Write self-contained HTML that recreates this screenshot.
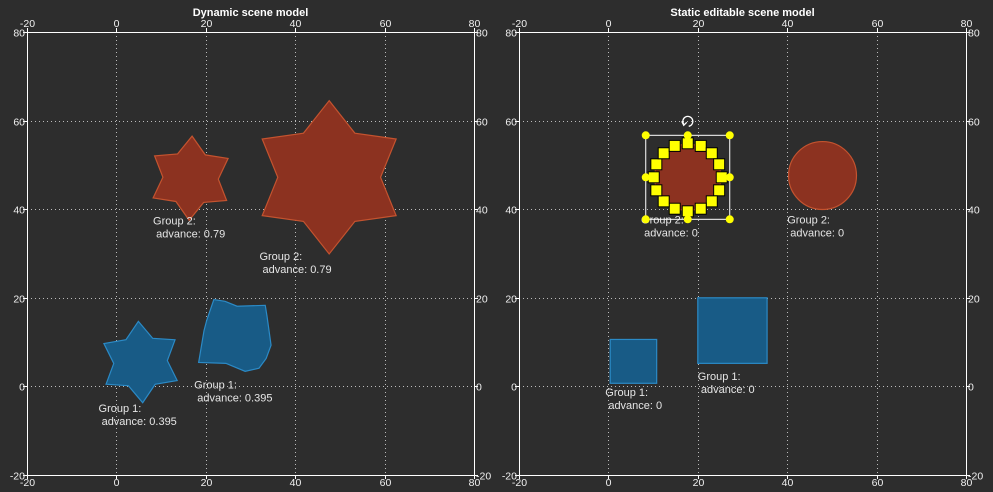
<!DOCTYPE html>
<html><head><meta charset="utf-8"><style>
html,body{margin:0;padding:0;background:#2d2d2d;width:993px;height:492px;overflow:hidden}
svg{display:block;font-family:"Liberation Sans","DejaVu Sans",sans-serif}
</style></head><body>
<svg id="c" width="993" height="492"></svg>
<script>
const ticks=[-20,0,20,40,60,80];
const tickLabels=["-20","0","20","40","60","80"];
const titles=["Dynamic scene model","Static editable scene model"];
// Left panel shapes (data units)
const smallStar={cx:16.6,cy:47,R:9.5,r:6.2,rot:2};
const bigStar={cx:47.6,cy:47.2,R:17.3,r:11.5,rot:0};
const blueStar={cx:5.4,cy:5.5,R:9.2,r:6.0,rot:-3};
const blobX=[21.8,24.3,27.0,33.3,33.7,34.6,33.5,31.9,28.8,24.5,18.4,19.6,20.2];
const blobY=[19.6,19.2,18.1,18.3,15.8,9.3,6.3,4.1,3.4,5.2,5.4,12.6,14.9];
const leftLabels=[["Group 2:","\u00a0advance: 0.79",8.2,36.5],["Group 2:","\u00a0advance: 0.79",32,28.5],["Group 1:","\u00a0advance: 0.395",-4,-5.8],["Group 1:","\u00a0advance: 0.395",17.4,-0.5]];
// Right panel shapes
const circles=[[17.75,47.2,7.4],[47.9,47.6,7.6]];
const rects=[[0.4,0.7,10.8,10.6],[20,5.2,35.5,20]];
const rightLabels=[["Group 2:","\u00a0advance: 0",7.3,36.8],["Group 2:","\u00a0advance: 0",40,36.8],["Group 1:","\u00a0advance: 0",-0.7,-2.2],["Group 1:","\u00a0advance: 0",20,1.5]];

const NS="http://www.w3.org/2000/svg";
const svg=document.getElementById('c');
function mk(t,a,p){const e=document.createElementNS(NS,t);for(const k in a)e.setAttribute(k,a[k]);(p||svg).appendChild(e);return e;}
const panels=[{x0:27,x1:474},{x0:519,x1:966}];
const y0=475,y1=32;
function sx(p,v){return p.x0+(v+20)/100*(p.x1-p.x0);}
function sy(v){return y0-(v+20)/100*(y0-y1);}
function px(v){return Math.round(v)+0.5;}
function starPts(p,s){const pts=[];for(let i=0;i<12;i++){const a=(s.rot+i*30)*Math.PI/180;const rr=i%2?s.r:s.R;pts.push(sx(p,s.cx+rr*Math.sin(a))+','+sy(s.cy+rr*Math.cos(a)));}return pts.join(' ');}
const red={fill:'#8c3220',stroke:'#c4532f','stroke-width':1.2};
const blue={fill:'#185b86',stroke:'#2b8ac6','stroke-width':1.2};
function label(p,g,l1,l2,x,y){
  const t=mk('text',{x:sx(p,x),y:sy(y),fill:'#e6e6e6','font-size':11},g);
  t.textContent=l1;
  
  const t2=mk('text',{x:sx(p,x),y:sy(y)+13,fill:'#e6e6e6','font-size':11},g);
  t2.textContent=l2;
  
}
panels.forEach((p,pi)=>{
  const g=mk('g',{});
  
  
  const tt=mk('text',{x:(p.x0+p.x1)/2,y:16,fill:'#ffffff','font-size':11,'font-weight':'bold','text-anchor':'middle'},g);
  tt.textContent=titles[pi];
  
  
  ticks.forEach((v,i)=>{
    const x=px(sx(p,v)),y=px(sy(v));
    if(i>0&&i<5){
      mk('line',{x1:x,x2:x,y1:y1,y2:y0,stroke:'#bbbbbb','stroke-dasharray':'1,3','stroke-width':1},g);
      mk('line',{x1:p.x0,x2:p.x1,y1:y,y2:y,stroke:'#bbbbbb','stroke-dasharray':'1,3','stroke-width':1},g);
    }
    mk('line',{x1:x,x2:x,y1:y1,y2:y1-4,stroke:'#fff'},g);
    mk('line',{x1:x,x2:x,y1:y0,y2:y0+4,stroke:'#fff'},g);
    mk('line',{x1:p.x0-4,x2:p.x0,y1:y,y2:y,stroke:'#fff'},g);
    mk('line',{x1:p.x1,x2:p.x1+4,y1:y,y2:y,stroke:'#fff'},g);
    const a=mk('text',{x:x,y:27,fill:'#f0f0f0','font-size':10.5,'text-anchor':'middle'},g);a.textContent=tickLabels[i];
    
    const b=mk('text',{x:x,y:486,fill:'#f0f0f0','font-size':10.5,'text-anchor':'middle'},g);b.textContent=tickLabels[i];
    
    const c=mk('text',{x:p.x0-2,y:y+4,fill:'#f0f0f0','font-size':10.5,'text-anchor':'end'},g);c.textContent=tickLabels[i];
    
    const d=mk('text',{x:p.x1+2,y:y+4,fill:'#f0f0f0','font-size':10.5},g);d.textContent=tickLabels[i];
    
  });
  const fr=mk('rect',{x:p.x0+0.5,y:y1+0.5,width:p.x1-p.x0,height:y0-y1,fill:'none',stroke:'#ffffff','stroke-width':1},g);
  
  if(pi===0){
    [[smallStar,red,'group2-small-star'],[bigStar,red,'group2-big-star'],[blueStar,blue,'group1-star']].forEach(([s,st,n])=>{
      const e=mk('polygon',Object.assign({points:starPts(p,s)},st),g);
      
    });
    const bp=blobX.map((v,i)=>sx(p,v)+','+sy(blobY[i])).join(' ');
    const bl=mk('polygon',Object.assign({points:bp},blue),g);
    
    leftLabels.forEach(l=>label(p,g,l[0],l[1],l[2],l[3]));
  } else {
    circles.forEach((c,i)=>{
      const e=mk('circle',Object.assign({cx:sx(p,c[0]),cy:sy(c[1]),r:(sx(p,c[2])-sx(p,0))},red),g);
      
    });
    rects.forEach(r=>{
      const e=mk('rect',Object.assign({x:sx(p,r[0]),y:sy(r[3]),width:sx(p,r[2])-sx(p,r[0]),height:sy(r[1])-sy(r[3])},blue),g);
      
    });
    rightLabels.forEach(l=>label(p,g,l[0],l[1],l[2],l[3]));
    const c=circles[0],cx=sx(p,c[0]),cy=sy(c[1]);
    const sel=mk('g',{},g);
    
    const h=42;
    mk('rect',{x:cx-h,y:cy-h,width:2*h,height:2*h,fill:'none',stroke:'#fff','stroke-width':1},sel);
    for(let i=0;i<16;i++){const a=i*Math.PI/8;mk('rect',{x:cx+34*Math.cos(a)-5.5,y:cy+34*Math.sin(a)-5.5,width:11,height:11,fill:'#ffff00',stroke:'#000','stroke-width':1},sel);}
    [[-1,-1],[0,-1],[1,-1],[-1,0],[1,0],[-1,1],[0,1],[1,1]].forEach(([a,b])=>mk('circle',{cx:cx+a*h,cy:cy+b*h,r:4,fill:'#ffff00'},sel));
    mk('path',{d:`M${cx-4} ${cy-53} A5 5 0 1 1 ${cx+1} ${cy-51}`,fill:'none',stroke:'#fff','stroke-width':1.3},sel);
    mk('path',{d:`M${cx-6} ${cy-56} L${cx-4} ${cy-52} L${cx-1} ${cy-55}`,fill:'none',stroke:'#fff','stroke-width':1.3},sel);
  }
});
</script>
</body></html>
